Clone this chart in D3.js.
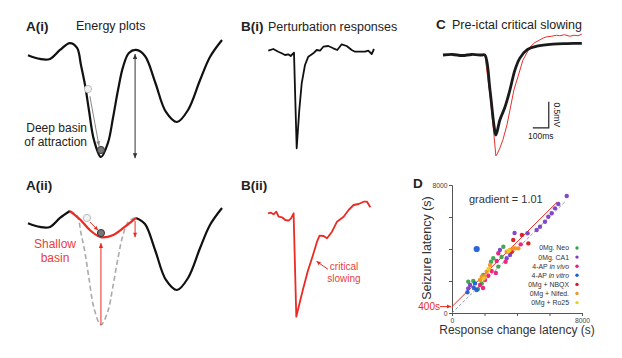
<!DOCTYPE html>
<html><head><meta charset="utf-8">
<script src="https://cdn.jsdelivr.net/npm/d3@7"></script>
<style>body{margin:0;background:#fff}svg{display:block;font-family:"Liberation Sans",Arial,Helvetica,sans-serif}</style>
</head><body><svg id="c" width="622" height="358"></svg>
<script>
// ---------- DATA ----------
// Energy landscape (state, energy)
const landscapeS = [0,6.2,11.3,16.5,21.6,25.3,27.3,29.4,31.4,34,37.6,41.2,43.8,46.4,49,52,55.7,60.3,65.5,71.1,76.8,82.5,88.7,93.8,100];
const landscapeE = [87,83.8,83.8,91.5,97.4,93.2,78.6,61.5,40.2,14.5,0,12,33.3,57.3,77,88.9,91.5,86.3,64.1,38.5,29.9,40.2,65.8,85.5,100];
const shallowS = [21.6,27,32,37.6,44,50,55.7];
const shallowE = [97.4,90,81,75,77,84,91.5];
// Perturbation response B(i) (time, voltage, arbitrary units)
const biT = [0.3,5.3,10.3,13.7,17,20.3,22.7,26,27.3,28.7,31.3,33.7,37,40.3,45.3,48.7,52,55.3,60.3,65.3,69.3,73.7,78.7,83.7,87,92,97,100.3,103.7,106];
const biV = [0.3,2,-0.7,-2.3,-4,-3.3,-5,-1.7,-49,-97.3,-59,-32.3,-14,-5.7,-2.3,1,0.3,4.3,5,2.7,1,6.7,5,1,-0.7,-0.7,-0.7,0.3,-3,2];
// B(ii) critical slowing response
const biiT = [0,3,5.6,8.3,10.6,14,17.3,20.6,23,25.6,28.3,34,39.6,45,49,51.6,55.6,59,64,69,75.6,80.6,85.6,90.6,95.6,99,102.3];
const biiV = [0,0.6,-1,1.6,-3.4,-4,-6.7,-7.4,-5,0,-103.4,-80,-58.4,-41.7,-28.4,-22.4,-22.7,-25,-18.4,-8.4,-3.4,3.3,8.3,9.3,11.6,11.6,6];
// C: pre-ictal traces (ms, mV)
const cBlackT = [0,60,120,180,240,262,294,319,331,356,388,419,450,481,525,588,688,780,869];
const cBlackV = [0,0.01,-0.01,0.01,0,0,-0.67,-1.35,-1.54,-1.25,-1.0,-0.67,-0.29,-0.06,0.1,0.17,0.21,0.22,0.225];
const cRedT = [0,60,120,180,240,262,294,319,331,340,356,375,400,419,444,469,500,544,575,606,630,650,680,710,731,760,794,820,845,869];
const cRedV = [0,0.01,-0.01,0.01,0,0,-0.77,-1.54,-1.94,-1.9,-1.79,-1.63,-1.35,-1.06,-0.67,-0.42,-0.1,0.15,0.24,0.29,0.33,0.35,0.36,0.38,0.37,0.39,0.36,0.38,0.37,0.4];
// D: latency scatter (s)
const seriesNames = ["0Mg. Neo","0Mg. CA1","4-AP in vivo","4-AP in vitro","0Mg + NBQX","0Mg + Nifed.","0Mg + Ro25"];
const neoX = [1000,1310,1830,1925,2540,2850,3160,3050,1600,2400];
const neoY = [1960,2000,1850,2375,3420,2900,4140,3500,1500,3200];
const ca1X = [7060,6540,6340,6135,5925,5720,5415,5210,4650,3850,3570,3365,2950,1110,1000];
const ca1Y = [7310,6810,6540,6230,6020,5700,5390,5190,4980,5000,3625,3420,3940,1750,1540];
const invivoX = [2850,2750,2440,2235,1725,2030,3300,1910,2700,4230];
const invivoY = [3730,3250,2625,2330,1750,2060,3200,1560,2500,4290];
const invitroX = [1520,1415,1520,1350,950];
const invitroY = [4000,1850,1440,1560,1300];
const nbqxX = [3770,4300,4700,3670];
const nbqxY = [4560,4880,4350,3830];
const nifedX = [3570,3365,3770,2340,2135,1830,1725,3880,4080,2000];
const nifedY = [3940,3830,4040,3000,2580,2270,2060,4040,4040,2300];
const ro25X = [2250,3500,1950];
const ro25Y = [2750,3900,2150];
const axisTicks = [0,2000,4000,6000,8000];
const axisTickLabels = ["0","","","","8000"];
const fitIntercept = 400, fitGradient = 1.01;

// ---------- DRAWING ----------
const svg = d3.select('#c');
svg.append('rect').attr('width',622).attr('height',358).attr('fill','#fff');
const RED = '#ec2a22';

function head(g,x,y,ang,color,len,hw){
  len=len||5; hw=hw||2.3;
  const c=Math.cos(ang), s=Math.sin(ang);
  g.append('path').attr('d',`M${x},${y}L${x-len*c+hw*s},${y-len*s-hw*c}L${x-len*c-hw*s},${y-len*s+hw*c}Z`).attr('fill',color);
}
function arrow(g,x1,y1,x2,y2,color,w,both,len,hw){
  g.append('line').attr('x1',x1).attr('y1',y1).attr('x2',x2).attr('y2',y2).attr('stroke',color).attr('stroke-width',w);
  const a=Math.atan2(y2-y1,x2-x1);
  head(g,x2,y2,a,color,len,hw);
  if(both) head(g,x1,y1,a+Math.PI,color,len,hw);
}
function txt(x,y,t,o){
  o=o||{};
  return svg.append('text').attr('x',x).attr('y',y).text(t)
    .attr('font-size',o.size||12).attr('font-weight',o.bold?'bold':null)
    .attr('fill',o.color||'#222').attr('text-anchor',o.anchor||'start');
}

// ---- Panel A ----
const xA = d3.scaleLinear().domain([0,100]).range([28,222]);
const yA1 = d3.scaleLinear().domain([0,100]).range([157,40]);
const yA2 = d3.scaleLinear().domain([0,100]).range([325,208]);
const land = landscapeS.map((s,i)=>({s,e:landscapeE[i]}));
const shallow = shallowS.map((s,i)=>({s,e:shallowE[i]}));
const lineA = ys => d3.line().x(d=>xA(d.s)).y(d=>ys(d.e)).curve(d3.curveCatmullRom.alpha(0.5));
const gA = svg.append('g');

txt(26,31,'A(i)',{size:13.5,bold:true});
txt(76,30,'Energy plots',{size:12.5});
gA.append('path').attr('d',lineA(yA1)(land)).attr('fill','none').attr('stroke','#111').attr('stroke-width',2.2);
arrow(gA,xA(55.2),yA1(88),xA(55.2),yA1(-1),'#333',1,true,5,2.2);
arrow(gA,xA(31.9),yA1(52),xA(36.6),yA1(9.5),'#888',1,false,4.5,2);
gA.append('circle').attr('cx',xA(30.9)).attr('cy',yA1(58.1)).attr('r',3.6).attr('fill','#f2f2f2').attr('stroke','#bbb').attr('stroke-width',1);
gA.append('circle').attr('cx',xA(37.6)).attr('cy',yA1(6)).attr('r',3.6).attr('fill','#777').attr('stroke','#333').attr('stroke-width',1);
txt(87,132,'Deep basin',{size:12,anchor:'end'});
txt(87,146,'of attraction',{size:12,anchor:'end'});

txt(26,190,'A(ii)',{size:13.5,bold:true});
gA.append('path').attr('d',lineA(yA2)(land.slice(4,17))).attr('fill','none').attr('stroke','#aaa').attr('stroke-width',1.6).attr('stroke-dasharray','5,3');
gA.append('path').attr('d',lineA(yA2)(land.slice(0,5))).attr('fill','none').attr('stroke','#111').attr('stroke-width',2.2);
gA.append('path').attr('d',lineA(yA2)(land.slice(16))).attr('fill','none').attr('stroke','#111').attr('stroke-width',2.2);
gA.append('path').attr('d',lineA(yA2)(shallow)).attr('fill','none').attr('stroke',RED).attr('stroke-width',2.2);
arrow(gA,xA(37.6),yA2(0),xA(37.6),yA2(70),RED,1,false,5,2.2);
arrow(gA,xA(55.2),yA2(88.9),xA(55.2),yA2(75),RED,1,false,4.5,2);
arrow(gA,xA(31.9),yA2(88),xA(36.1),yA2(81),RED,1,false,4,2);
gA.append('circle').attr('cx',xA(30.4)).attr('cy',yA2(91.5)).attr('r',3.6).attr('fill','#f2f2f2').attr('stroke','#bbb').attr('stroke-width',1);
gA.append('circle').attr('cx',xA(37.6)).attr('cy',yA2(78.6)).attr('r',3.6).attr('fill','#777').attr('stroke','#333').attr('stroke-width',1);
txt(55,248,'Shallow',{size:12,anchor:'middle',color:'#e8403a'});
txt(55,262,'basin',{size:12,anchor:'middle',color:'#e8403a'});

// ---- Panel B ----
const xB = d3.scaleLinear().domain([0,106]).range([268,374]);
const yB1 = d3.scaleLinear().domain([-100,10]).range([151,41]);
const yB2 = d3.scaleLinear().domain([-100,10]).range([313.3,203.3]);
txt(241,31,'B(i)',{size:13.5,bold:true});
txt(268,31,'Perturbation responses',{size:12.5});
svg.append('path').attr('d',d3.line().x((d,i)=>xB(biT[i])).y((d,i)=>yB1(biV[i]))(biT))
  .attr('fill','none').attr('stroke','#111').attr('stroke-width',1.8).attr('stroke-linejoin','round');
txt(241,190,'B(ii)',{size:13.5,bold:true});
svg.append('path').attr('d',d3.line().x((d,i)=>xB(biiT[i])).y((d,i)=>yB2(biiV[i]))(biiT))
  .attr('fill','none').attr('stroke',RED).attr('stroke-width',1.8).attr('stroke-linejoin','round');
arrow(svg,xB(60),yB2(-56),xB(48.5),yB2(-48),RED,1,false,4,2);
txt(344,270,'critical',{size:10,anchor:'middle',color:'#e8403a'});
txt(344,282,'slowing',{size:10,anchor:'middle',color:'#e8403a'});

// ---- Panel C ----
const xC = d3.scaleLinear().domain([0,870]).range([443,582]);
const yC = d3.scaleLinear().domain([-2,0.4]).range([159,34.2]);
txt(436,29,'C',{size:13.5,bold:true});
txt(452,29,'Pre-ictal critical slowing',{size:12.5});
svg.append('path').attr('d',d3.line().x((d,i)=>xC(cRedT[i])).y((d,i)=>yC(cRedV[i]))(cRedT))
  .attr('fill','none').attr('stroke','#e8302a').attr('stroke-width',1);
svg.append('path').attr('d',d3.line().x((d,i)=>xC(cBlackT[i])).y((d,i)=>yC(cBlackV[i])).curve(d3.curveCatmullRom.alpha(0.5))(cBlackT))
  .attr('fill','none').attr('stroke','#1a1a1a').attr('stroke-width',2.8).attr('stroke-linejoin','round');
// scale bar 100 ms x 0.5 mV
const sbT=662, sbV=-1.40;
svg.append('path').attr('d',`M${xC(sbT-100)},${yC(sbV)}H${xC(sbT)}V${yC(sbV+0.5)}`).attr('fill','none').attr('stroke','#222').attr('stroke-width',1.2);
txt(xC(sbT-50),138.5,'100ms',{size:8.5,anchor:'middle'});
svg.append('text').attr('transform',`translate(${xC(sbT)+8},${yC(sbV+0.25)}) rotate(90)`).attr('text-anchor','middle').attr('dy','0.35em')
  .attr('font-size',8.5).attr('fill','#222').text('0.5mV');

// ---- Panel D ----
const xD = d3.scaleLinear().domain([0,8000]).range([452,582]);
const yD = d3.scaleLinear().domain([0,8000]).range([313,185]);
txt(413,188,'D',{size:13.5,bold:true});
const gD = svg.append('g');
const ax = gD.append('g').attr('transform','translate(0,313)')
  .call(d3.axisBottom(xD).tickValues(axisTicks).tickFormat((d,i)=>axisTickLabels[i]).tickSize(3).tickPadding(2));
const ay = gD.append('g').attr('transform','translate(452,0)')
  .call(d3.axisLeft(yD).tickValues(axisTicks).tickFormat((d,i)=>axisTickLabels[i]).tickSize(3).tickPadding(1.5));
[ax,ay].forEach(a=>{a.select('.domain').attr('stroke','#555');a.selectAll('line').attr('stroke','#555');
  a.selectAll('text').attr('font-size',6.8).attr('fill','#444').attr('font-family','"Liberation Sans",Arial,sans-serif');});
// identity & fit
gD.append('line').attr('x1',xD(0)).attr('y1',yD(0)).attr('x2',xD(7000)).attr('y2',yD(7000))
  .attr('stroke','#7f8c99').attr('stroke-width',0.9).attr('stroke-dasharray','3,2');
gD.append('line').attr('x1',xD(0)).attr('y1',yD(fitIntercept)).attr('x2',xD(6460)).attr('y2',yD(fitIntercept+fitGradient*6460))
  .attr('stroke',RED).attr('stroke-width',1);
const palette = ['#3aa34a','#7a3fc6','#ea1c7c','#1f5fd4','#d51920','#f7931e','#e8d020'];
const seriesX = [neoX,ca1X,invivoX,invitroX,nbqxX,nifedX,ro25X];
const seriesY = [neoY,ca1Y,invivoY,invitroY,nbqxY,nifedY,ro25Y];
seriesX.forEach((xs,k)=>{
  gD.selectAll(null).data(xs).enter().append('circle')
    .attr('cx',d=>xD(d)).attr('cy',(d,i)=>yD(seriesY[k][i]))
    .attr('r',(d,i)=>(k===3&&seriesY[k][i]>3500)?3.1:2.2).attr('fill',palette[k]).attr('opacity',0.95);
});
// legend
seriesNames.forEach((n,i)=>{
  const y = 248 + i*9.1;
  const t = gD.append('text').attr('x',569).attr('y',y).attr('dy','0.35em').attr('text-anchor','end').attr('font-size',6.9).attr('fill','#333');
  if(n.startsWith('4-AP ')){ t.append('tspan').text('4-AP '); t.append('tspan').attr('font-style','italic').text(n.slice(5)); }
  else t.text(n);
  gD.append('circle').attr('cx',577).attr('cy',y).attr('r',1.7).attr('fill',palette[i]);
});
txt(469,203,'gradient = 1.01',{size:11,color:'#333'});
svg.append('text').attr('transform','translate(431,248) rotate(-90)').attr('text-anchor','middle')
  .attr('font-size',12.5).attr('fill','#333').text('Seizure latency (s)');
txt(517,334,'Response change latency (s)',{size:12,anchor:'middle',color:'#333'});
// 400 s intercept marker
arrow(svg,xD(0)-12,yD(fitIntercept),xD(0)-1,yD(fitIntercept),RED,1,false,4,2);
svg.append('text').attr('x',xD(0)-12).attr('y',yD(fitIntercept)).attr('dy','0.35em').attr('text-anchor','end')
  .attr('font-size',10).attr('fill',RED).text('400s');
</script></body></html>
